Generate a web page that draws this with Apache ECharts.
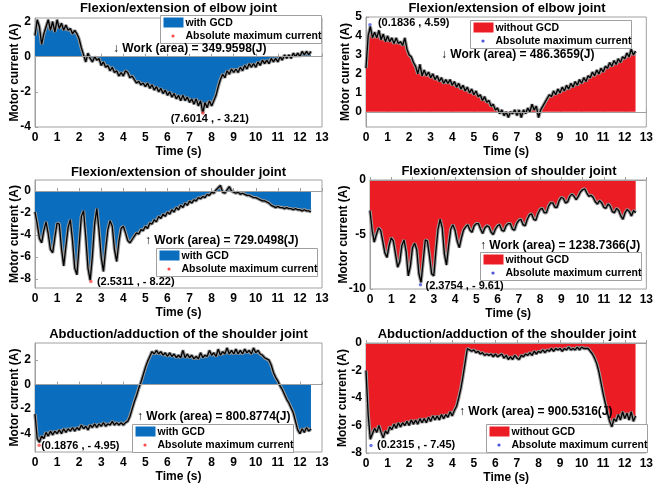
<!DOCTYPE html>
<html>
<head>
<meta charset="utf-8">
<script src="https://cdn.jsdelivr.net/npm/echarts@6.0.0/dist/echarts.min.js"></script>
<style>
  html, body { margin: 0; padding: 0; background: #fff; }
  #chart { width: 656px; height: 491px; }
</style>
</head>
<body>
<div id="chart"></div>
<script>
// sample times (s) for every trace: 0.0 .. 12.5, step 0.1
const time = Array.from({ length: 126 }, (_, i) => Math.round(i) / 10)

// motor current (A)
const elbowWith = [
  1.2, 2.1, 1.7, 0.7, 1.3, 1.7, 2.1, 1.5, 2.0, 1.4,
  2.1, 1.6, 1.9, 1.5, 1.8, 1.5, 1.6, 1.3, 1.5, 1.3,
  1.0, 0.5, 0.1, -0.3, 0.2, -0.1, -0.3, 0.0, -0.2, -0.1,
  -0.5, -0.3, -0.6, -0.5, -0.8, -0.6, -0.9, -0.8, -1.1, -0.9,
  -1.1, -0.8, -0.9, -1.2, -1.1, -1.3, -1.5, -1.4, -1.6, -1.5,
  -1.7, -1.5, -1.8, -1.6, -1.9, -1.7, -2.0, -1.8, -2.1, -1.9,
  -2.2, -2.0, -2.3, -2.1, -2.4, -2.2, -2.5, -2.2, -2.5, -2.3,
  -2.6, -2.4, -2.7, -2.4, -2.8, -2.5, -3.21, -2.6, -2.9, -2.5,
  -2.8, -2.5, -2.2, -1.7, -1.3, -1.0, -1.2, -0.8, -1.0, -0.7,
  -0.9, -0.7, -0.9, -0.6, -0.8, -0.5, -0.7, -0.4, -0.6, -0.4,
  -0.6, -0.3, -0.5, -0.2, -0.4, -0.2, -0.4, -0.1, -0.3, -0.1,
  -0.3, 0.0, -0.2, 0.1, -0.1, 0.1, -0.1, 0.2, 0.0, 0.2,
  0.0, 0.3, 0.1, 0.3, 0.1, 0.3
]
const elbowWithout = [
  2.3, 4.0, 4.5, 3.9, 4.2, 3.9, 4.3, 3.8, 4.1, 3.7,
  4.0, 3.7, 3.9, 3.6, 3.9, 3.6, 3.7, 3.5, 3.9, 3.3,
  3.0, 2.9, 2.6, 2.4, 2.0, 2.5, 1.9, 2.2, 1.9, 2.1,
  1.8, 2.0, 1.7, 1.9, 1.6, 1.8, 1.5, 1.7, 1.5, 1.7,
  1.4, 1.6, 1.3, 1.5, 1.2, 1.4, 1.1, 1.3, 1.0, 1.2,
  0.9, 1.1, 0.8, 0.9, 0.6, 0.8, 0.5, 0.6, 0.3, 0.4,
  0.1, 0.2, -0.1, 0.1, -0.2, 0.0, -0.3, 0.0, -0.1, 0.1,
  -0.2, 0.1, -0.3, 0.1, -0.1, 0.2, 0.0, 0.4, 0.1, 0.3,
  -0.3, 0.1, 0.3, 0.5, 0.7, 0.9, 0.8, 1.1, 0.9, 1.2,
  1.0, 1.3, 1.1, 1.4, 1.2, 1.5, 1.3, 1.6, 1.4, 1.7,
  1.5, 1.8, 1.6, 1.9, 1.8, 2.1, 1.9, 2.2, 2.0, 2.3,
  2.1, 2.4, 2.3, 2.6, 2.4, 2.7, 2.5, 2.8, 2.6, 2.9,
  2.8, 3.1, 2.9, 3.3, 3.0, 3.2
]
const shoulderWith = [
  -1.9, -3.0, -4.3, -4.7, -3.6, -2.8, -3.9, -5.3, -5.6, -4.2,
  -2.9, -3.0, -5.2, -6.8, -5.0, -3.3, -2.6, -4.5, -7.0, -7.6,
  -4.9, -2.3, -1.8, -4.2, -7.0, -8.1, -5.9, -3.0, -1.6, -3.6,
  -6.0, -7.3, -5.3, -3.5, -2.7, -3.2, -5.3, -6.4, -4.6, -3.4,
  -3.2, -3.8, -4.5, -4.7, -4.4, -4.1, -3.8, -3.9, -3.5, -3.6,
  -3.2, -3.4, -2.9, -3.0, -2.6, -2.8, -2.3, -2.5, -2.1, -2.3,
  -1.9, -2.1, -1.7, -1.9, -1.5, -1.7, -1.3, -1.5, -1.1, -1.3,
  -0.9, -1.1, -0.8, -0.9, -0.6, -0.7, -0.5, -0.6, -0.3, -0.4,
  -0.1, -0.2, 0.1, 0.3, 0.5, -0.1, -0.2, 0.1, 0.4, 0.0,
  -0.1, -0.2, -0.1, -0.3, -0.2, -0.3, -0.4, -0.4, -0.5, -0.6,
  -0.6, -0.7, -0.8, -0.9, -0.9, -1.0, -1.1, -1.3, -1.4, -1.5,
  -1.4, -1.5, -1.5, -1.6, -1.5, -1.6, -1.6, -1.7, -1.6, -1.7,
  -1.7, -1.8, -1.7, -1.8, -1.8, -1.9
]
const shoulderWithout = [
  -2.8, -4.6, -5.7, -5.0, -4.4, -4.6, -5.6, -6.7, -7.1, -6.0,
  -5.3, -5.6, -6.8, -8.0, -7.5, -6.0, -5.5, -6.6, -8.8, -7.9,
  -6.2, -5.8, -6.4, -8.6, -9.4, -7.5, -5.5, -5.6, -7.0, -8.6,
  -8.8, -6.5, -4.5, -3.6, -4.4, -6.8, -7.8, -6.0, -4.5, -4.1,
  -4.6, -5.6, -6.2, -5.3, -4.6, -4.3, -4.1, -4.6, -4.8, -4.2,
  -4.0, -4.0, -4.5, -4.9, -4.4, -4.2, -4.3, -4.8, -5.0, -4.5,
  -4.2, -4.1, -4.6, -4.7, -4.2, -4.0, -4.0, -4.5, -4.6, -4.0,
  -3.7, -3.6, -4.1, -4.2, -3.6, -3.2, -3.1, -3.6, -3.7, -3.1,
  -2.7, -2.6, -3.0, -3.0, -2.4, -2.1, -2.1, -2.5, -2.5, -1.9,
  -1.6, -1.7, -2.1, -2.0, -1.5, -1.3, -1.5, -1.8, -1.5, -1.1,
  -0.9, -0.8, -1.2, -1.5, -1.4, -1.6, -2.0, -2.2, -1.9, -2.1,
  -2.5, -2.6, -2.2, -2.4, -2.9, -3.0, -2.6, -2.8, -3.3, -3.6,
  -3.0, -2.7, -2.9, -3.3, -2.8, -3.0
]
const abductionWith = [
  -2.4, -4.4, -4.7, -4.2, -4.4, -3.9, -4.2, -3.8, -4.1, -3.8,
  -4.0, -3.7, -4.0, -3.6, -3.9, -3.6, -3.8, -3.5, -3.8, -3.5,
  -3.7, -3.3, -3.6, -3.4, -3.7, -3.3, -3.5, -3.2, -3.5, -3.2,
  -3.4, -3.1, -3.4, -3.2, -3.3, -3.0, -3.3, -3.1, -3.3, -3.1,
  -3.3, -3.1, -3.0, -2.6, -2.0, -1.4, -0.9, -0.3, 0.2, 0.8,
  1.4, 1.9, 2.3, 2.7, 2.5, 2.8, 2.5, 2.7, 2.4, 2.6,
  2.3, 2.6, 2.3, 2.5, 2.2, 2.4, 2.2, 2.8, 2.2, 2.5,
  2.2, 2.4, 2.1, 2.3, 2.1, 2.6, 2.2, 2.4, 2.3, 2.8,
  2.4, 2.6, 2.3, 2.9, 2.4, 2.7, 2.5, 3.0, 2.5, 2.8,
  2.5, 2.9, 2.5, 2.8, 2.5, 2.9, 2.6, 2.8, 2.5, 3.0,
  2.6, 2.8, 2.5, 2.4, 2.2, 2.1, 2.0, 1.6, 1.0, 0.6,
  0.3, -0.1, -0.4, -0.8, -1.2, -1.5, -1.9, -2.3, -3.0, -3.7,
  -4.0, -3.6, -3.9, -3.5, -3.8, -3.6
]
const abductionWithout = [
  -2.0, -5.2, -7.0, -6.6, -6.2, -6.5, -6.0, -6.5, -6.9, -6.4,
  -6.6, -6.1, -6.3, -5.9, -6.2, -5.8, -6.1, -5.8, -6.0, -5.7,
  -6.0, -5.6, -5.9, -5.6, -5.9, -5.5, -5.8, -5.5, -5.8, -5.4,
  -5.7, -5.3, -5.6, -5.3, -5.6, -5.2, -5.5, -5.2, -5.4, -5.0,
  -5.3, -4.9, -4.6, -4.0, -3.3, -2.4, -1.4, -0.4, -0.5, -0.6,
  -0.5, -0.7, -0.6, -0.8, -0.7, -0.9, -0.8, -0.9, -0.8, -1.0,
  -0.8, -1.0, -0.9, -0.8, -1.1, -0.9, -1.2, -1.0, -1.2, -0.9,
  -1.1, -1.2, -0.9, -1.0, -0.8, -0.9, -0.7, -0.9, -0.6, -0.8,
  -0.6, -0.7, -0.5, -0.7, -0.5, -0.6, -0.4, -0.6, -0.4, -0.5,
  -0.4, -0.6, -0.4, -0.5, -0.3, -0.5, -0.4, -0.5, -0.3, -0.5,
  -0.3, -0.4, -0.4, -0.4, -0.6, -0.8, -1.1, -1.5, -2.1, -2.9,
  -3.7, -4.4, -5.1, -5.7, -6.1, -5.5, -5.7, -5.2, -5.6, -5.0,
  -5.5, -5.1, -5.6, -5.0, -5.7, -5.3
]

// absolute maximum current points [time, current]
const peaks = [[7.6014, -3.21], [0.1836, 4.59], [2.5311, -8.22], [2.3754, -9.61], [0.1876, -4.95], [0.2315, -7.45]]
// work (J) written on each panel
const works = [349.9598, 486.3659, 729.0498, 1238.7366, 800.8774, 900.5316]

// tick labels
const xTicks = [0, 1, 2, 3, 4, 5, 6, 7, 8, 9, 10, 11, 12, 13]
const yTicksElbowWith = [-4, -2, 0, 2]
const yTicksElbowWithout = [0, 1, 2, 3, 4, 5]
const yTicksShoulderWith = [-8, -6, -4, -2, 0]
const yTicksShoulderWithout = [-10, -5, 0]
const yTicksAbductionWith = [-4, -2, 0, 2]
const yTicksAbductionWithout = [-8, -6, -4, -2, 0]

const BLUE = '#0b6dbd'
const RED = '#ec1c24'
const FONT = '"Liberation Sans", Arial, sans-serif'

const panels = [
  { title: 'Flexion/extension of elbow joint', values: elbowWith, fill: BLUE, dot: '#ff4d4d', name: 'with GCD', arrow: '↓',
    grid: { left: 35, top: 18, width: 287, height: 109 }, yMin: -4, yMax: 2.2, yTicks: yTicksElbowWith,
    nameGap: 14, titleTop: 2, workAt: [113, 49], legendAt: [160, 15], peakOffset: [7, 6], peakAlign: 'center' },
  { title: 'Flexion/extension of elbow joint', values: elbowWithout, fill: RED, dot: '#4a55d8', name: 'without GCD', arrow: '↓',
    grid: { left: 366, top: 17, width: 282, height: 110 }, yMin: -0.8, yMax: 5, yTicks: yTicksElbowWithout,
    nameGap: 14, titleTop: 2, workAt: [441, 55], legendAt: [470, 20], peakOffset: [8, -2], peakAlign: 'left' },
  { title: 'Flexion/extension of shoulder joint', values: shoulderWith, fill: BLUE, dot: '#ff4d4d', name: 'with GCD', arrow: '↑',
    grid: { left: 35, top: 180, width: 287, height: 108 }, yMin: -8.8, yMax: 1, yTicks: yTicksShoulderWith,
    nameGap: 14, titleTop: 166, workAt: [145, 241], legendAt: [156, 248], peakOffset: [6, 0], peakAlign: 'left' },
  { title: 'Flexion/extension of shoulder joint', values: shoulderWithout, fill: RED, dot: '#4a55d8', name: 'without GCD', arrow: '↑',
    grid: { left: 370, top: 180, width: 278, height: 109 }, yMin: -10, yMax: 0, yTicks: yTicksShoulderWithout,
    nameGap: 20, titleTop: 165, workAt: [480, 246], legendAt: [480, 252], peakOffset: [5, 1], peakAlign: 'left' },
  { title: 'Abduction/adduction of the shoulder joint', values: abductionWith, fill: BLUE, dot: '#ff4d4d', name: 'with GCD', arrow: '↑',
    grid: { left: 35, top: 343, width: 287, height: 109 }, yMin: -5.5, yMax: 3.4, yTicks: yTicksAbductionWith,
    nameGap: 14, titleTop: 328, workAt: [137, 417], legendAt: [132, 424], peakOffset: [2, 1], peakAlign: 'left' },
  { title: 'Abduction/adduction of the shoulder joint', values: abductionWithout, fill: RED, dot: '#4a55d8', name: 'without GCD', arrow: '↑',
    grid: { left: 366, top: 343, width: 282, height: 110 }, yMin: -8, yMax: 0, yTicks: yTicksAbductionWithout,
    nameGap: 17, titleTop: 328, workAt: [459, 412], legendAt: [486, 424], peakOffset: [6, 0], peakAlign: 'left' }
]

function peakText (x, y) {
  return '(' + x.toFixed(4) + ' , ' + (y < 0 ? '- ' + Math.abs(y).toFixed(2) : y.toFixed(2)) + ')'
}

function legendBox (at, fill, dot, name) {
  const font = 'bold 10.5px ' + FONT
  return {
    type: 'group', x: at[0] + 0.5, y: at[1] + 0.5, z: 100,
    children: [
      { type: 'rect', shape: { x: 0, y: 0, width: 161, height: 28 }, style: { fill: '#fff', stroke: '#a0a0a0', lineWidth: 1 } },
      { type: 'rect', shape: { x: 3, y: 2, width: 20, height: 10 }, style: { fill: fill } },
      { type: 'text', x: 25, y: 7.5, style: { text: name, font: font, fill: '#000', verticalAlign: 'middle' } },
      { type: 'circle', shape: { cx: 12.5, cy: 20.5, r: 1.6 }, style: { fill: dot } },
      { type: 'text', x: 25, y: 20.5, style: { text: 'Absolute maximum current', font: font, fill: '#000', verticalAlign: 'middle' } }
    ]
  }
}

const chart = echarts.init(document.getElementById('chart'))

const option = {
  animation: false,
  backgroundColor: '#fff',
  title: panels.map(p => ({
    text: p.title,
    left: p.grid.left + p.grid.width / 2,
    top: p.titleTop,
    padding: 0,
    textAlign: 'center',
    textStyle: { fontSize: 13, fontWeight: 'bold', fontFamily: FONT, color: '#000' }
  })),
  grid: panels.map(p => Object.assign({ show: true, borderColor: '#a0a0a0', borderWidth: 1 }, p.grid)),
  xAxis: panels.map((p, i) => ({
    type: 'value',
    gridIndex: i,
    min: 0,
    max: 13,
    interval: 1,
    name: 'Time (s)',
    nameLocation: 'middle',
    nameGap: 19,
    nameMoveOverlap: false,
    nameTextStyle: { fontSize: 12, fontWeight: 'bold', fontFamily: FONT, color: '#000' },
    axisLine: { show: true, lineStyle: { color: '#a0a0a0' } },
    axisTick: { inside: true, length: 3, lineStyle: { color: '#a0a0a0' }, customValues: xTicks },
    axisLabel: { margin: 5, fontSize: 12, fontWeight: 'bold', fontFamily: FONT, color: '#000', customValues: xTicks },
    splitLine: { show: false }
  })),
  yAxis: panels.map((p, i) => ({
    type: 'value',
    gridIndex: i,
    min: p.yMin,
    max: p.yMax,
    name: 'Motor current (A)',
    nameLocation: 'middle',
    nameRotate: 90,
    nameGap: p.nameGap,
    nameMoveOverlap: false,
    nameTextStyle: { fontSize: 12, fontWeight: 'bold', fontFamily: FONT, color: '#000' },
    axisLine: { show: true, lineStyle: { color: '#a0a0a0' } },
    axisTick: { inside: true, length: 3, lineStyle: { color: '#a0a0a0' }, customValues: p.yTicks },
    axisLabel: { margin: 4, fontSize: 12, fontWeight: 'bold', fontFamily: FONT, color: '#000', customValues: p.yTicks },
    splitLine: { show: false }
  })),
  series: [],
  graphic: []
}

panels.forEach((p, i) => {
  const pts = time.map((t, k) => [t, p.values[k]])
  // filled area with a grey halo along the trace
  option.series.push({
    type: 'line',
    xAxisIndex: i,
    yAxisIndex: i,
    data: pts,
    symbol: 'none',
    silent: true,
    z: 2,
    lineStyle: { color: '#9a9a9a', width: 3.4 },
    areaStyle: { color: p.fill, opacity: 1 },
    markLine: {
      silent: true,
      symbol: 'none',
      label: { show: false },
      lineStyle: { color: '#a0a0a0', width: 1, type: 'solid' },
      data: [{ yAxis: 0 }]
    }
  })
  // raw current trace
  option.series.push({
    type: 'line',
    xAxisIndex: i,
    yAxisIndex: i,
    data: pts,
    symbol: 'none',
    silent: true,
    z: 3,
    lineStyle: { color: '#000', width: 1.3 }
  })
  // absolute maximum current
  option.series.push({
    type: 'scatter',
    xAxisIndex: i,
    yAxisIndex: i,
    data: [peaks[i]],
    symbol: 'circle',
    symbolSize: 3.5,
    silent: true,
    z: 4,
    itemStyle: { color: p.dot }
  })
  option.graphic.push({
    type: 'text',
    x: p.workAt[0],
    y: p.workAt[1],
    z: 100,
    style: {
      text: p.arrow + ' Work (area) = ' + works[i].toFixed(4) + '(J)',
      font: 'bold 12px ' + FONT,
      fill: '#000',
      verticalAlign: 'middle'
    }
  })
  option.graphic.push(legendBox(p.legendAt, p.fill, p.dot, p.name))
})

chart.setOption(option)

// coordinate labels beside each maximum point, placed through the axes
const peakLabels = panels.map((p, i) => {
  const at = chart.convertToPixel({ xAxisIndex: i, yAxisIndex: i }, peaks[i])
  return {
    type: 'text',
    x: at[0] + p.peakOffset[0],
    y: at[1] + p.peakOffset[1],
    z: 100,
    style: {
      text: peakText(peaks[i][0], peaks[i][1]),
      font: 'bold 11px ' + FONT,
      fill: '#000',
      align: p.peakAlign,
      verticalAlign: 'middle'
    }
  }
})
chart.setOption({ graphic: option.graphic.concat(peakLabels) })
</script>
</body>
</html>
